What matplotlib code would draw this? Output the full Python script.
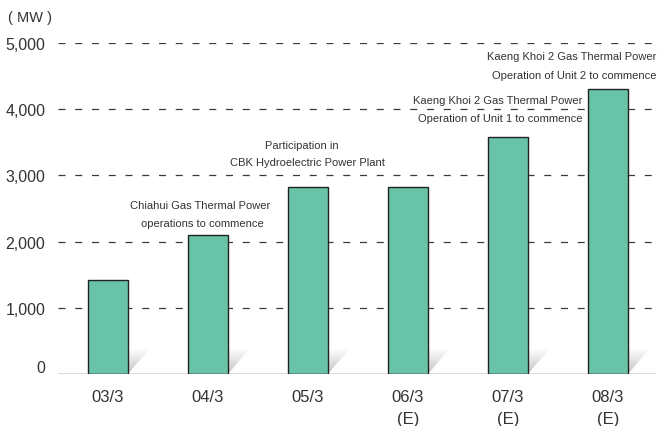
import matplotlib
matplotlib.use("Agg")
import matplotlib.pyplot as plt
import numpy as np
from matplotlib.patches import Polygon
from matplotlib import font_manager
import matplotlib.transforms as mtransforms

categories = ["03/3", "04/3", "05/3", "06/3\n(E)", "07/3\n(E)", "08/3\n(E)"]
values = [1420, 2100, 2825, 2825, 3580, 4305]
yticks = [0, 1000, 2000, 3000, 4000, 5000]
ytick_labels = ["0", "1,000", "2,000", "3,000", "4,000", "5,000"]

names = {f.name for f in font_manager.fontManager.ttflist}
narrow = "Liberation Sans Narrow" if "Liberation Sans Narrow" in names else "Liberation Sans"
plt.rcParams['font.family'] = ['Liberation Sans', 'DejaVu Sans']

W, H = 658, 427
fig = plt.figure(figsize=(W/100, H/100), dpi=100)
left, right, bottom, top = 58, 656, 375, 44
ax = fig.add_axes([left/W, 1-bottom/H, (right-left)/W, (bottom-top)/H])
ax.set_xlim(-0.5, 5.48)
ax.set_ylim(0, 5000)

bar_color = "#68C3A8"
x = np.arange(len(categories))
bw = 0.4

px_x = 1/100.0
px_y = 5000/(bottom-top)
cm = matplotlib.colors.LinearSegmentedColormap.from_list('s', ['#c4c4c4', '#ffffff'])
for xi in x:
    r = xi + bw/2
    poly = Polygon([(r, 0), (r + 22*px_x, 26*px_y), (r, 26*px_y)], closed=True,
                   facecolor='none', edgecolor='none')
    ax.add_patch(poly)
    grad = np.linspace(0, 1, 64).reshape(-1, 1)
    im = ax.imshow(grad, extent=[r, r + 22*px_x, 0, 26*px_y], origin='lower',
                   cmap=cm, aspect='auto', zorder=1.5)
    im.set_clip_path(poly)

ax.set_aspect('auto')
ax.bar(x, values, width=bw, color=bar_color, edgecolor='#222222', linewidth=1.0, zorder=3)

for yv in yticks[1:]:
    ax.axhline(yv, color='#3a3a3a', linewidth=0.9, linestyle=(0, (5.6, 7.8)), zorder=1)
ax.axhline(0, color='#555555', linewidth=1.0, zorder=4)

for s in ax.spines.values():
    s.set_visible(False)
ax.set_yticks(yticks)
ax.set_yticklabels(ytick_labels, fontsize=11.5, color='#333333')
ax.tick_params(axis='y', length=0, pad=9)
lbl0 = ax.get_yticklabels()[0]
lbl0.set_transform(lbl0.get_transform() + mtransforms.ScaledTranslation(0, 8/100, fig.dpi_scale_trans))
ax.set_xticks(x)
ax.set_xticklabels(categories, fontsize=12, color='#333333', linespacing=1.55)
ax.tick_params(axis='x', length=0, pad=11)

fig.text(8/W, 1-18/H, "( MW )", fontsize=10.5, color='#333333', va='center', ha='left')

def px(xp, yp):
    return xp/W, 1-yp/H

ann_kw = dict(fontsize=8.0, color='#333333', family=[narrow, 'DejaVu Sans'], va='center')
fig.text(*px(200, 206), "Chiahui Gas Thermal Power", ha='center', **ann_kw)
fig.text(*px(202, 224), "operations to commence", ha='center', **ann_kw)
fig.text(*px(302, 146), "Participation in", ha='center', **ann_kw)
fig.text(*px(307, 163), "CBK Hydroelectric Power Plant", ha='center', **ann_kw)
fig.text(*px(582, 101), "Kaeng Khoi 2 Gas Thermal Power", ha='right', **ann_kw)
fig.text(*px(582, 119), "Operation of Unit 1 to commence", ha='right', **ann_kw)
fig.text(*px(656, 57), "Kaeng Khoi 2 Gas Thermal Power", ha='right', **ann_kw)
fig.text(*px(656, 76), "Operation of Unit 2 to commence", ha='right', **ann_kw)

fig.savefig("out.png", dpi=100)
